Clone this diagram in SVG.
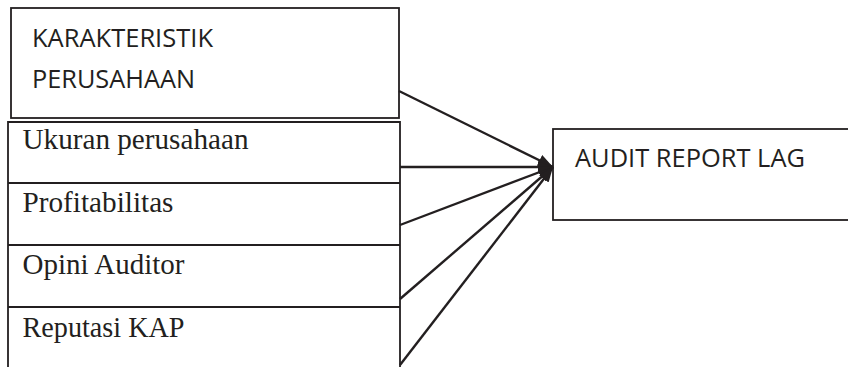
<svg xmlns="http://www.w3.org/2000/svg" width="848" height="367" viewBox="0 0 848 367">
<style>
.box{fill:none;stroke:#231f20;stroke-width:1.8}
.sans{font-family:"Open Sans","Liberation Sans",sans-serif;font-size:25px;fill:#231f20}
.serif{font-family:"Liberation Serif","Times New Roman",serif;font-size:29px;fill:#231f20}
.conn{stroke:#231f20;stroke-width:2.4;fill:none;marker-end:url(#arr)}
</style>
<defs>
<marker id="arr" markerUnits="userSpaceOnUse" markerWidth="16" markerHeight="12" refX="15" refY="6" orient="auto">
<path d="M0,0 L15,6 L0,12 z" fill="#231f20"/>
</marker>
</defs>
<rect width="848" height="367" fill="#fff"/>
<g id="karakteristik">
<rect class="box" x="11" y="8" width="388" height="110"/>
<text class="sans" x="32" y="47" textLength="181" lengthAdjust="spacingAndGlyphs">KARAKTERISTIK</text>
<text class="sans" x="32" y="88" textLength="163" lengthAdjust="spacingAndGlyphs">PERUSAHAAN</text>
</g>
<g id="ukuran">
<path class="box" d="M8,183 V122 H400 V183"/>
<text class="serif" x="22.5" y="149" textLength="226" lengthAdjust="spacingAndGlyphs">Ukuran perusahaan</text>
</g>
<g id="profitabilitas">
<path class="box" d="M8,183 H400 M8,183 V245 M400,183 V245"/>
<text class="serif" x="22.5" y="212" textLength="151" lengthAdjust="spacingAndGlyphs">Profitabilitas</text>
</g>
<g id="opini">
<path class="box" d="M8,245 H400 M8,245 V307 M400,245 V307"/>
<text class="serif" x="22.5" y="274" textLength="162" lengthAdjust="spacingAndGlyphs">Opini Auditor</text>
</g>
<g id="reputasi">
<path class="box" d="M8,307 H400 M8,307 V368 M400,307 V368"/>
<text class="serif" x="22.5" y="337" textLength="162" lengthAdjust="spacingAndGlyphs">Reputasi KAP</text>
</g>
<g id="audit-report-lag">
<rect class="box" x="553" y="129" width="300" height="91"/>
<text class="sans" x="575" y="167" textLength="230" lengthAdjust="spacingAndGlyphs">AUDIT REPORT LAG</text>
</g>
<g id="connectors">
<line class="conn" x1="399" y1="91" x2="553" y2="167"/>
<line class="conn" x1="400" y1="167" x2="553" y2="167"/>
<line class="conn" x1="400" y1="225" x2="553" y2="167"/>
<line class="conn" x1="400" y1="299" x2="553" y2="167"/>
<line class="conn" x1="400" y1="365" x2="553" y2="167"/>
</g>
</svg>
